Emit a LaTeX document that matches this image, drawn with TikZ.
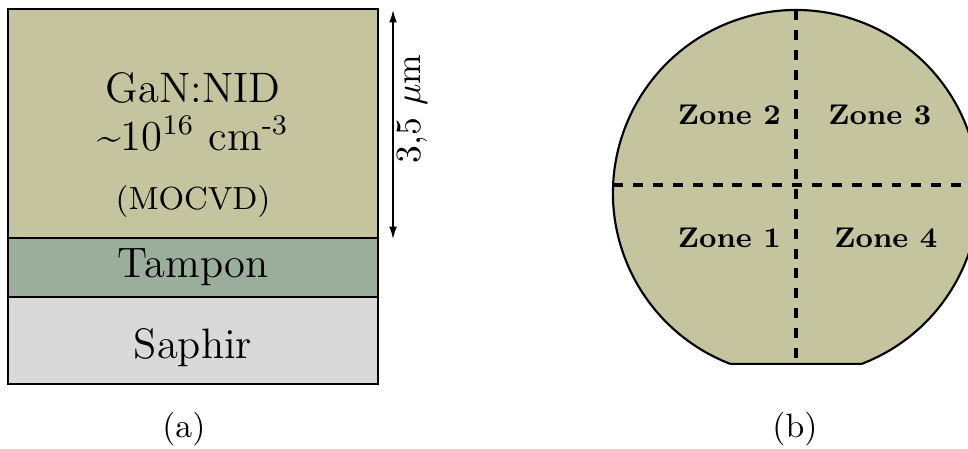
\documentclass[tikz,border=0pt]{standalone}
\usepackage{amsmath,amssymb}
\usetikzlibrary{arrows.meta}
\definecolor{gan}{RGB}{196,196,158}
\definecolor{tampon}{RGB}{155,174,155}
\definecolor{saphir}{RGB}{217,217,217}

\begin{document}
\begin{tikzpicture}[
  layer/.style={draw, semithick},
  txt/.style={anchor=base, inner sep=0pt, font=\large},
  zone/.style={anchor=base, inner sep=0pt, font=\footnotesize\bfseries},
  cut/.style={line width=1.05pt, dash pattern=on 2.8pt off 2.8pt},
  arr/.style={{Latex[length=3.5pt,width=2.2pt]}-{Latex[length=3.5pt,width=2.2pt]}, thin}]
\useasboundingbox (0,0) rectangle (9.583,4.435);
% (a) empilement
\draw[layer, fill=saphir] (0.08,0.634) rectangle (3.742,1.495);
\draw[layer, fill=tampon] (0.08,1.495) rectangle (3.742,2.079);
\draw[layer, fill=gan] (0.08,2.079) rectangle (3.742,4.346);
\node[txt] (nid) at (1.911,3.425) {GaN:NID};
\node[txt] (dop) at (1.911,2.950) {\textasciitilde10\textsuperscript{16} cm\textsuperscript{-3}};
\node[txt, font=\small] (mocvd) at (1.911,2.359) {(MOCVD)};
\node[txt] (tp) at (1.911,1.683) {Tampon};
\node[txt] (sa) at (1.911,0.891) {Saphir};
\coordinate (haut) at (3.891,4.336);
\coordinate (bas) at (3.891,2.069);
\draw[arr] (haut) -- (bas);
\node[anchor=base, inner sep=0pt, rotate=90] (ep) at (4.158,3.356) {3,5 $\mu$m};
\node[anchor=base, inner sep=0pt, font=\fontsize{9.5}{11}\selectfont] (a) at (1.82,0.102) {(a)};
% (b) plaquette
\coordinate (c) at (7.88,2.524);
\draw[semithick, fill=gan] ([shift={(-69:1.812)}]c) arc[start angle=-69, end angle=249, radius=1.812] -- cycle;
\draw[cut] (7.88,4.336) -- (7.88,0.840);
\draw[cut] (6.07,2.607) -- (9.69,2.607);
\node[zone] (z2) at (7.22,3.205) {Zone 2};
\node[zone] (z3) at (8.71,3.205) {Zone 3};
\node[zone] (z1) at (7.22,1.980) {Zone 1};
\node[zone] (z4) at (8.77,1.980) {Zone 4};
\node[anchor=base, inner sep=0pt, font=\fontsize{9.5}{11}\selectfont] (b) at (7.87,0.102) {(b)};
\end{tikzpicture}
\end{document}
